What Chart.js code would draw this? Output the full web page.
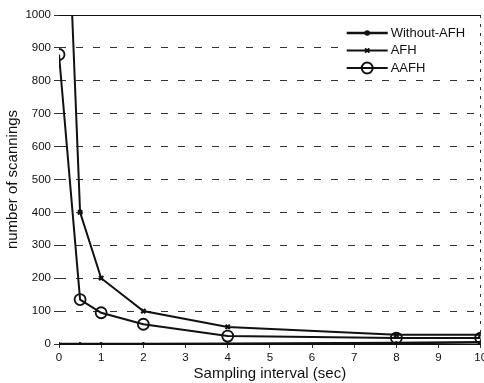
<!DOCTYPE html>
<html>
<head>
<meta charset="utf-8">
<script src="https://cdn.jsdelivr.net/npm/chart.js@4/dist/chart.umd.min.js"></script>
<style>
  html, body { margin: 0; padding: 0; background: #fff; overflow: hidden; }
  #wrap { width: 488px; height: 383px; }
</style>
</head>
<body>
<div id="wrap"><canvas id="scanChart"></canvas></div>
<script>
// sampling interval (sec) vs number of scannings
const intervals = [0, 0.5, 1, 2, 4, 8, 10];
const withoutAfh = [0, 0, 0, 0, 1, 3, 5];
const afh = [2000, 400, 200, 100, 52, 28, 28];
const aafh = [880, 135, 95, 60, 24, 18, 18];
const seriesNames = ["Without-AFH", "AFH", "AAFH"];

const FONT = "'Liberation Sans', Arial, Helvetica, sans-serif";

function toPoints(ys) {
    return intervals.map((x, i) => ({ x: x, y: ys[i] }));
}

// top border + legend box inside the plot
const frameAndLegend = {
    id: "frameAndLegend",
    beforeDatasetsDraw(chart) {
        const { ctx, chartArea } = chart;
        ctx.save();
        ctx.strokeStyle = "#111";
        ctx.lineWidth = 1;
        ctx.beginPath();
        ctx.moveTo(chartArea.left, chartArea.top + 0.5);
        ctx.lineTo(chartArea.right, chartArea.top + 0.5);
        ctx.stroke();
        ctx.restore();
    },
    afterDraw(chart) {
        const { ctx, chartArea } = chart;
        const boxL = chartArea.right - 138;
        const boxT = chartArea.top + 2;
        ctx.save();
        ctx.fillStyle = "#fff";
        ctx.fillRect(boxL, boxT, 134, 61);
        ctx.font = "13px " + FONT;
        ctx.textBaseline = "middle";
        chart.data.datasets.forEach((ds, i) => {
            const y = boxT + 16 + i * 17.5;
            const x0 = boxL + 4, x1 = boxL + 45;
            ctx.strokeStyle = ds.borderColor;
            ctx.lineWidth = ds.borderWidth;
            ctx.beginPath();
            ctx.moveTo(x0, y);
            ctx.lineTo(x1, y);
            ctx.stroke();
            ctx.fillStyle = ds.pointBackgroundColor || ds.borderColor;
            Chart.helpers.drawPoint(ctx, {
                pointStyle: ds.pointStyle,
                radius: ds.pointRadius,
                borderWidth: ds.pointBorderWidth
            }, (x0 + x1) / 2, y);
            ctx.fillStyle = "#111";
            ctx.fillText(ds.label, x1 + 3, y);
        });
        ctx.restore();
    }
};

new Chart(document.getElementById("scanChart"), {
    type: "line",
    data: {
        datasets: [
            {
                label: seriesNames[0],
                data: toPoints(withoutAfh),
                borderColor: "#111",
                backgroundColor: "#111",
                borderWidth: 2.5,
                pointStyle: "circle",
                pointRadius: 1.5,
                pointBorderWidth: 1,
                pointBackgroundColor: "#111"
            },
            {
                label: seriesNames[1],
                data: toPoints(afh),
                borderColor: "#111",
                backgroundColor: "#111",
                borderWidth: 2,
                pointStyle: "crossRot",
                pointRadius: 3,
                pointBorderWidth: 2.2
            },
            {
                label: seriesNames[2],
                data: toPoints(aafh),
                borderColor: "#111",
                backgroundColor: "rgba(0,0,0,0)",
                borderWidth: 2,
                pointStyle: "circle",
                pointRadius: 5.5,
                pointBorderWidth: 1.8,
                pointBackgroundColor: "rgba(0,0,0,0)"
            }
        ]
    },
    options: {
        responsive: true,
        maintainAspectRatio: false,
        animation: false,
        layout: { padding: { top: 15, right: 3, left: 0, bottom: 0 } },
        elements: { line: { tension: 0 } },
        scales: {
            x: {
                type: "linear",
                min: 0,
                max: 10,
                ticks: {
                    stepSize: 1,
                    color: "#111",
                    padding: 3,
                    font: { family: FONT, size: 11.5 }
                },
                grid: {
                    drawOnChartArea: true,
                    color: c => (c.tick && c.tick.value === 10 ? "#333" : "rgba(0,0,0,0)"),
                    tickColor: "#333",
                    tickLength: 4,
                    lineWidth: 1
                },
                border: { display: true, color: "#111", width: 1, dash: [3, 6] },
                title: {
                    display: true,
                    text: "Sampling interval (sec)",
                    color: "#111",
                    padding: { top: 1, bottom: 0 },
                    font: { family: FONT, size: 15 }
                },
                afterFit: s => { s.paddingRight = 0; s.height = 39; }
            },
            y: {
                min: 0,
                max: 1000,
                ticks: {
                    stepSize: 100,
                    color: "#111",
                    padding: 3,
                    font: { family: FONT, size: 11.5 },
                    callback: v => String(v)
                },
                grid: {
                    color: "#333",
                    lineWidth: 1,
                    tickColor: "#333",
                    tickLength: 5,
                    tickBorderDash: []
                },
                border: { display: false, dash: [7, 10] },
                title: {
                    display: true,
                    text: "number of scannings",
                    color: "#111",
                    padding: { top: 4, bottom: 0 },
                    font: { family: FONT, size: 15 }
                },
                afterFit: s => { s.width = 59; }
            }
        },
        plugins: {
            legend: { display: false },
            tooltip: { enabled: false }
        }
    },
    plugins: [frameAndLegend]
});
</script>
</body>
</html>
